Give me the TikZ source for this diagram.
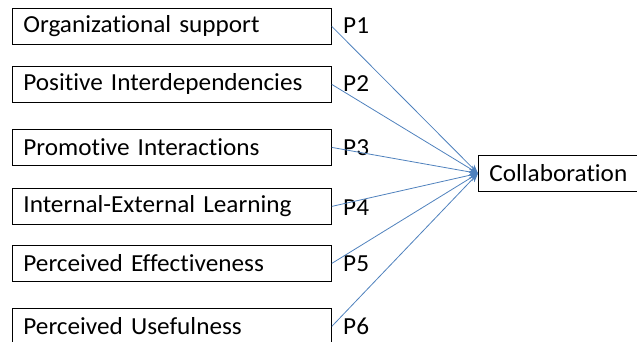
\documentclass[tikz,border=0pt]{standalone}
\usepackage{fontspec}
\setmainfont[FakeStretch=1.03,Ligatures=NoCommon]{Carlito}
\usetikzlibrary{arrows.meta}
\definecolor{linkblue}{RGB}{79,129,189}
\newcommand{\diagfont}{\fontsize{24.5}{28}\selectfont\spaceskip=0.2em\relax}
\tikzset{
  factor/.style={draw=black, line width=0.8pt, anchor=north west, inner xsep=11pt, inner ysep=0pt,
    text width=297pt, align=left, minimum height=36pt, font=\diagfont},
  outcome/.style={draw=black, line width=0.8pt, anchor=north west, inner xsep=11pt, inner ysep=0pt,
    text width=140pt, align=left, minimum height=36pt, font=\diagfont},
  plabel/.style={anchor=west, inner sep=0pt, font=\diagfont},
  link/.style={draw=linkblue, line width=0.8pt, -{Stealth[length=9pt,width=7pt]}}
}
\begin{document}
\begin{tikzpicture}[x=1pt,y=-1pt]
\useasboundingbox (0,0) rectangle (637,341);
\node[factor] (b1) at (12,8) {Organizational support};
\node[factor] (b2) at (12,66) {Positive Interdependencies};
\node[factor] (b3) at (12,129) {Promotive Interactions};
\node[factor] (b4) at (12,188) {Internal-External Learning};
\node[factor] (b5) at (12,245) {Perceived Effectiveness};
\node[factor] (b6) at (12,308) {Perceived Usefulness};
\node[outcome] (c) at (478,155) {Collaboration};
\node[plabel] (p1) at (343,26) {P1};
\node[plabel] (p2) at (343,84) {P2};
\node[plabel] (p3) at (343,148) {P3};
\node[plabel] (p4) at (343,208) {P4};
\node[plabel] (p5) at (343,264) {P5};
\node[plabel] (p6) at (343,326) {P6};
\foreach \i in {1,...,6} {\draw[link] (b\i.east) -- (c.west);}
\end{tikzpicture}
\end{document}
